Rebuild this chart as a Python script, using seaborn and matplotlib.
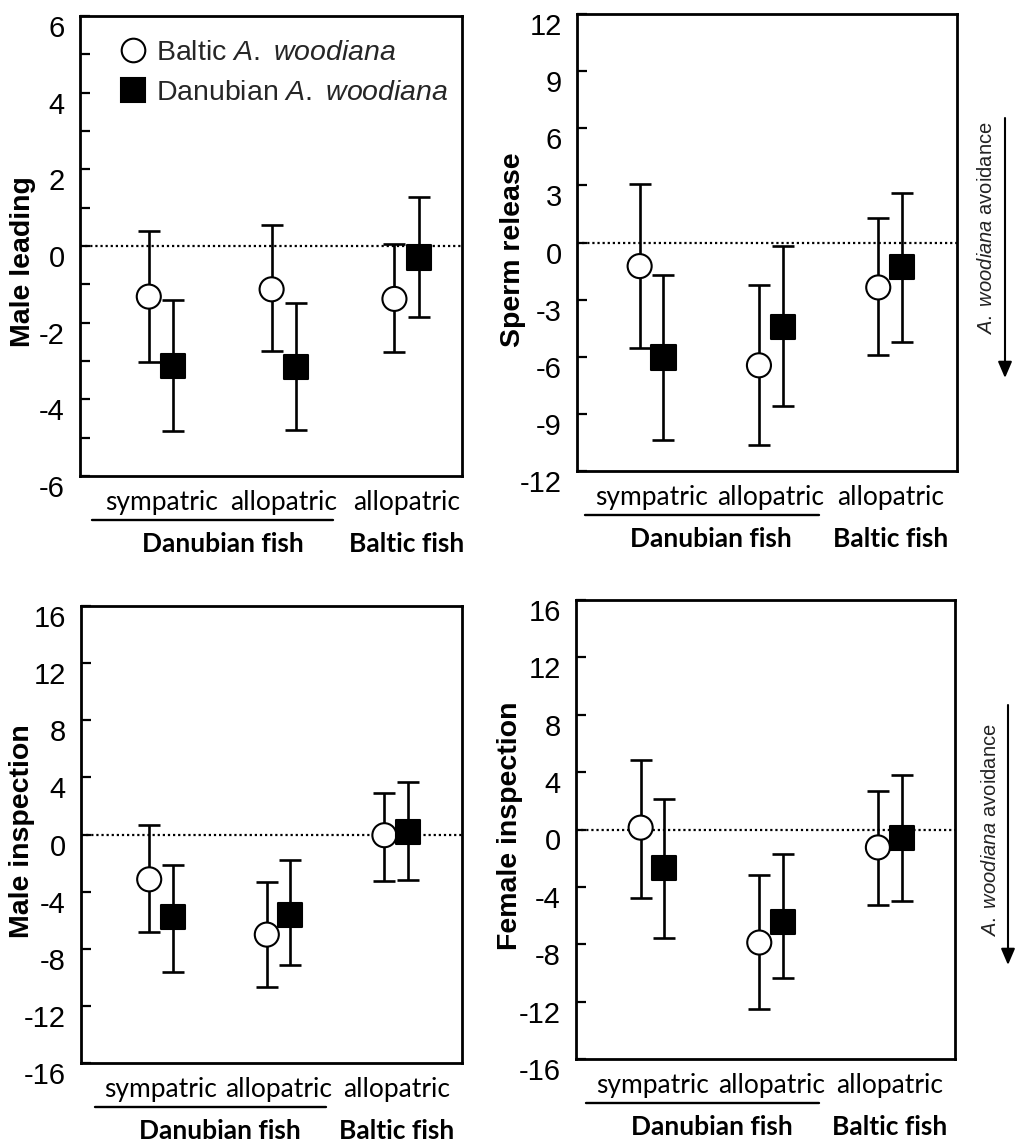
import numpy as np
import pandas as pd
import matplotlib
matplotlib.use("Agg")
import matplotlib.pyplot as plt
import seaborn as sns
from matplotlib.lines import Line2D
from matplotlib.transforms import ScaledTranslation

# ---------------- data ----------------
categories = ["sympatric", "allopatric", "allopatric"]
groups = ["Danubian fish", "Baltic fish"]
series = ["Baltic", "Danubian"]

# Male leading
lead_baltic_mean = [-1.32, -1.13, -1.38]
lead_baltic_lo = [-3.02, -2.75, -2.77]
lead_baltic_hi = [0.39, 0.55, 0.05]
lead_danub_mean = [-3.13, -3.15, -0.30]
lead_danub_lo = [-4.82, -4.79, -1.85]
lead_danub_hi = [-1.41, -1.48, 1.29]

# Sperm release
sperm_baltic_mean = [-1.24, -6.45, -2.36]
sperm_baltic_lo = [-5.55, -10.64, -5.89]
sperm_baltic_hi = [3.08, -2.23, 1.29]
sperm_danub_mean = [-6.04, -4.45, -1.29]
sperm_danub_lo = [-10.39, -8.61, -5.23]
sperm_danub_hi = [-1.73, -0.21, 2.61]

# Male inspection
minsp_baltic_mean = [-3.14, -7.01, -0.05]
minsp_baltic_lo = [-6.83, -10.65, -3.27]
minsp_baltic_hi = [0.65, -3.32, 2.91]
minsp_danub_mean = [-5.75, -5.65, 0.20]
minsp_danub_lo = [-9.65, -9.15, -3.19]
minsp_danub_hi = [-2.11, -1.81, 3.67]

# Female inspection
finsp_baltic_mean = [0.13, -7.88, -1.25]
finsp_baltic_lo = [-4.75, -12.53, -5.25]
finsp_baltic_hi = [4.83, -3.20, 2.68]
finsp_danub_mean = [-2.68, -6.45, -0.58]
finsp_danub_lo = [-7.53, -10.33, -4.95]
finsp_danub_hi = [2.13, -1.70, 3.80]

lead_ticks = [-6, -4, -2, 0, 2, 4, 6]
sperm_ticks = [-12, -9, -6, -3, 0, 3, 6, 9, 12]
insp_ticks = [-16, -12, -8, -4, 0, 4, 8, 12, 16]

# ---------------- style ----------------
sns.set_style("white")
plt.rcParams["font.family"] = ["Liberation Sans", "DejaVu Sans"]
plt.rcParams["mathtext.fontset"] = "custom"
plt.rcParams["mathtext.rm"] = "Liberation Sans"
plt.rcParams["mathtext.it"] = "Liberation Sans:italic"

W, H = 1016, 1142
fig = plt.figure(figsize=(W / 100, H / 100), dpi=100)


def px_rect(left, top, right, bottom):
    return [left / W, 1 - bottom / H, (right - left) / W, (bottom - top) / H]


DODGE = 0.1
TICK_FONT = 21
LABEL_FONT = 20.5
CAT_FONT = dict(family=["Lato", "DejaVu Sans"], size=19)


def draw_panel(rect, ylabel, b_mean, b_lo, b_hi, d_mean, d_lo, d_hi, yticks,
               xlim, label_center, minor=None):
    ax = fig.add_axes(px_rect(*rect))
    df = pd.DataFrame({
        "cat": list(range(len(categories))) * 2,
        "series": [series[0]] * 3 + [series[1]] * 3,
        "mean": b_mean + d_mean,
        "lo": b_lo + d_lo,
        "hi": b_hi + d_hi,
    })
    df["x"] = df["cat"] + np.where(df["series"] == series[0], -DODGE, DODGE)

    ax.axhline(0, ls=(0, (1, 1.3)), color="black", lw=1.6, zorder=1)
    for s in series:
        sub = df[df["series"] == s]
        ax.errorbar(sub["x"], sub["mean"],
                    yerr=[sub["mean"] - sub["lo"], sub["hi"] - sub["mean"]],
                    fmt="none", ecolor="black", elinewidth=1.9, capsize=8,
                    capthick=1.9, zorder=2)
    sns.scatterplot(data=df, x="x", y="mean", hue="series", style="series",
                    markers={"Baltic": "o", "Danubian": "s"},
                    palette={"Baltic": "white", "Danubian": "black"},
                    s=300, edgecolor="black", linewidth=1.5, legend=False,
                    ax=ax, zorder=3)

    ax.set_xlim(*xlim)
    ax.set_ylim(yticks[0], yticks[-1])
    ax.set_xticks(range(len(categories)))
    ax.set_xticklabels(categories, fontdict=CAT_FONT)
    ax.tick_params(axis="x", length=0, pad=10, colors="black")
    ax.set_yticks(yticks)
    ax.set_yticklabels([str(t) for t in yticks], fontsize=TICK_FONT)
    if minor is not None:
        ax.set_yticks(minor, minor=True)
    ax.tick_params(axis="y", which="both", direction="in", length=7,
                   width=1.6, pad=11, left=True, colors="black")
    for sp in ax.spines.values():
        sp.set_color("black")
        sp.set_linewidth(2)
    ax.set_xlabel("")
    ax.set_ylabel(ylabel, fontsize=LABEL_FONT, fontweight="bold", color="black")
    ax.yaxis.label.set_verticalalignment("center")
    l, t, r, b = rect
    ax.yaxis.set_label_coords((label_center[0] - l) / (r - l),
                              (b - label_center[1]) / (b - t))

    # shift y tick labels slightly below their ticks
    off = ScaledTranslation(0, -0.10, fig.dpi_scale_trans)
    for lab in ax.get_yticklabels():
        lab.set_transform(lab.get_transform() + off)

    # group underline and group labels
    xtr = ax.get_xaxis_transform()
    line_tr = xtr + ScaledTranslation(0, -0.44, fig.dpi_scale_trans)
    ax.add_line(Line2D([-0.56, 1.40], [0, 0], transform=line_tr, color="black",
                       lw=1.7, clip_on=False))
    for gx, gname in zip([0.5, 2.0], groups):
        ax.annotate(gname, xy=(gx, 0), xycoords=xtr, xytext=(0, -49),
                    textcoords="offset points", ha="center", va="center",
                    fontfamily=["Lato", "DejaVu Sans"], fontweight="bold",
                    fontsize=19, color="black", annotation_clip=False)
    return ax


ax1 = draw_panel((80, 16, 462, 476), "Male leading",
                 lead_baltic_mean, lead_baltic_lo, lead_baltic_hi,
                 lead_danub_mean, lead_danub_lo, lead_danub_hi,
                 lead_ticks, (-0.66, 2.45), (23, 262),
                 minor=[-5, -3, -1, 1, 3, 5])
ax2 = draw_panel((577, 14, 957, 471), "Sperm release",
                 sperm_baltic_mean, sperm_baltic_lo, sperm_baltic_hi,
                 sperm_danub_mean, sperm_danub_lo, sperm_danub_hi,
                 sperm_ticks, (-0.625, 2.56), (513, 250))
ax3 = draw_panel((81, 606, 462, 1063), "Male inspection",
                 minsp_baltic_mean, minsp_baltic_lo, minsp_baltic_hi,
                 minsp_danub_mean, minsp_danub_lo, minsp_danub_hi,
                 insp_ticks, (-0.68, 2.56), (22, 831))
ax4 = draw_panel((576, 600, 955, 1059), "Female inspection",
                 finsp_baltic_mean, finsp_baltic_lo, finsp_baltic_hi,
                 finsp_danub_mean, finsp_danub_lo, finsp_danub_hi,
                 insp_ticks, (-0.645, 2.55), (510, 826))

# legend in first panel
handles = [
    Line2D([], [], ls="none", marker="o", ms=17, mfc="white", mec="black", mew=1.5),
    Line2D([], [], ls="none", marker="s", ms=17, mfc="black", mec="black", mew=1.5),
]
legend_labels = [r"Baltic $\mathit{A.\ woodiana}$", r"Danubian $\mathit{A.\ woodiana}$"]
ax1.legend(handles, legend_labels, loc="upper left", bbox_to_anchor=(0.102, 0.948),
           frameon=False, fontsize=20.5, borderpad=0, borderaxespad=0,
           handlelength=1.0, handletextpad=0.3, labelspacing=0.5)

# side annotations with arrows
for text_xy, arr_x, arr_top, arr_bot in [((987, 228), 1005, 118, 378),
                                         ((990, 830), 1008, 705, 965)]:
    fig.text(text_xy[0] / W, 1 - text_xy[1] / H,
             r"$\mathit{A.\ woodiana}$ avoidance", rotation=90,
             ha="center", va="center", fontsize=14.5, color="#222222")
    ax1.annotate("", xy=(arr_x / W, 1 - arr_bot / H),
                 xytext=(arr_x / W, 1 - arr_top / H),
                 xycoords="figure fraction", textcoords="figure fraction",
                 arrowprops=dict(arrowstyle="-|>,head_length=0.7,head_width=0.3",
                                 lw=1.5, color="black", shrinkA=0, shrinkB=0,
                                 mutation_scale=14),
                 annotation_clip=False)

fig.savefig("out.png", dpi=100, facecolor="white")
